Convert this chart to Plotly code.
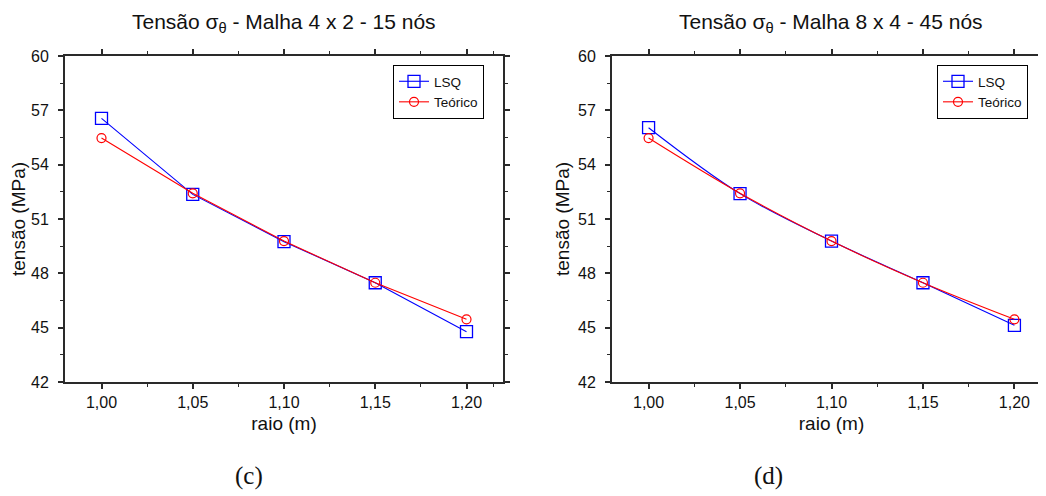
import plotly.graph_objects as go

raio = [1.00, 1.05, 1.10, 1.15, 1.20]
lsq_4x2 = [56.56, 52.36, 49.75, 47.48, 44.78]
teorico_4x2 = [55.47, 52.42, 49.78, 47.48, 45.46]
lsq_8x4 = [56.04, 52.40, 49.78, 47.48, 45.13]
teorico_8x4 = [55.47, 52.42, 49.78, 47.48, 45.46]
titles = ["Tensão σ<sub>θ</sub> - Malha 4 x 2 - 15 nós",
          "Tensão σ<sub>θ</sub> - Malha 8 x 4 - 45 nós"]
panel_labels = ["(c)", "(d)"]
yticks = [42, 45, 48, 51, 54, 57, 60]
xticks = [1.00, 1.05, 1.10, 1.15, 1.20]

W, H = 1046, 496
OFF = 8  # page offset of the figure inside the browser window
BLUE = "#0000FF"
RED = "#FF0000"
AX = "#2a2a2a"
FONT = "Liberation Sans, Arial, sans-serif"


def px(v):
    return (v - OFF) / W


def py(v):
    return 1 - (v - OFF) / H


fig = go.Figure()

panels = [
    dict(lsq=lsq_4x2, teo=teorico_4x2, shape="linear", xa="x", ya="y",
         dom=[px(65), px(503)], leg=(484, 65), cx=284, lab=249),
    dict(lsq=lsq_8x4, teo=teorico_8x4, shape="spline", xa="x2", ya="y2",
         dom=[px(612), px(1051)], leg=(1028, 65), cx=831, lab=768),
]

ydom = [py(382), py(56)]

for i, p in enumerate(panels):
    leg = "legend" if i == 0 else "legend2"
    fig.add_trace(go.Scatter(
        x=raio, y=p["lsq"], name="LSQ", mode="lines+markers",
        line=dict(color=BLUE, width=1.1, shape=p["shape"]),
        marker=dict(symbol="square-open", size=12, color=BLUE, line=dict(width=1.3)),
        xaxis=p["xa"], yaxis=p["ya"], legend=leg))
    fig.add_trace(go.Scatter(
        x=raio, y=p["teo"], name="Teórico", mode="lines+markers",
        line=dict(color=RED, width=1.1, shape=p["shape"]),
        marker=dict(symbol="circle-open", size=9, color=RED, line=dict(width=1.2)),
        xaxis=p["xa"], yaxis=p["ya"], legend=leg))

    xname = "xaxis" if i == 0 else "xaxis2"
    yname = "yaxis" if i == 0 else "yaxis2"
    anchor_x = "y" if i == 0 else "y2"
    anchor_y = "x" if i == 0 else "x2"
    fig.layout[xname] = dict(
        domain=p["dom"], anchor=anchor_x, range=[0.98, 1.22], automargin=False,
        tickvals=xticks, tickformat=".2f",
        ticks="outside", ticklen=5, tickwidth=1.5, tickcolor=AX,
        minor=dict(tickvals=[0.975, 1.025, 1.075, 1.125, 1.175, 1.215],
                   ticks="outside", ticklen=3, tickwidth=1.2, tickcolor=AX),
        showline=True, linecolor=AX, linewidth=2, mirror="ticks",
        showgrid=False, zeroline=False, ticklabelstandoff=0,
        tickfont=dict(family=FONT, size=16, color="#111"),
        title=dict(text="raio (m)", font=dict(family=FONT, size=19, color="#111"),
                   standoff=6),
    )
    fig.layout[yname] = dict(
        domain=ydom, anchor=anchor_y, range=[42, 60], automargin=False,
        tickvals=yticks,
        ticks="outside", ticklen=5, tickwidth=1.5, tickcolor=AX,
        minor=dict(tickvals=[43.5, 46.5, 49.5, 52.5, 55.5, 58.5],
                   ticks="outside", ticklen=3, tickwidth=1.2, tickcolor=AX),
        showline=True, linecolor=AX, linewidth=2, mirror="ticks",
        showgrid=False, zeroline=False, ticklabelstandoff=6,
        tickfont=dict(family=FONT, size=16, color="#111"),
        title=dict(text="tensão (MPa)", font=dict(family=FONT, size=19, color="#111"),
                   standoff=3),
    )
    lx, ly = p["leg"]
    fig.layout[leg] = dict(
        x=px(lx), y=py(ly), xanchor="right", yanchor="top",
        bgcolor="white", bordercolor="black", borderwidth=1,
        font=dict(family=FONT, size=13.5, color="#111"),
        tracegroupgap=0, itemwidth=30,
    )
    fig.add_annotation(x=px(p["cx"]), y=py(23), xref="paper", yref="paper",
                       text=titles[i], showarrow=False, xanchor="center", yanchor="middle",
                       font=dict(family=FONT, size=21, color="#111"))
    fig.add_annotation(x=px(p["lab"]), y=py(476), xref="paper", yref="paper",
                       text=panel_labels[i], showarrow=False, xanchor="center", yanchor="middle",
                       font=dict(family="Liberation Serif, Times New Roman, serif", size=25, color="#111"))

fig.update_layout(
    width=W, height=H, margin=dict(l=0, r=0, t=0, b=0, autoexpand=False),
    paper_bgcolor="white", plot_bgcolor="white",
    separators=", ", showlegend=True,
)

fig.write_html("out.html")
